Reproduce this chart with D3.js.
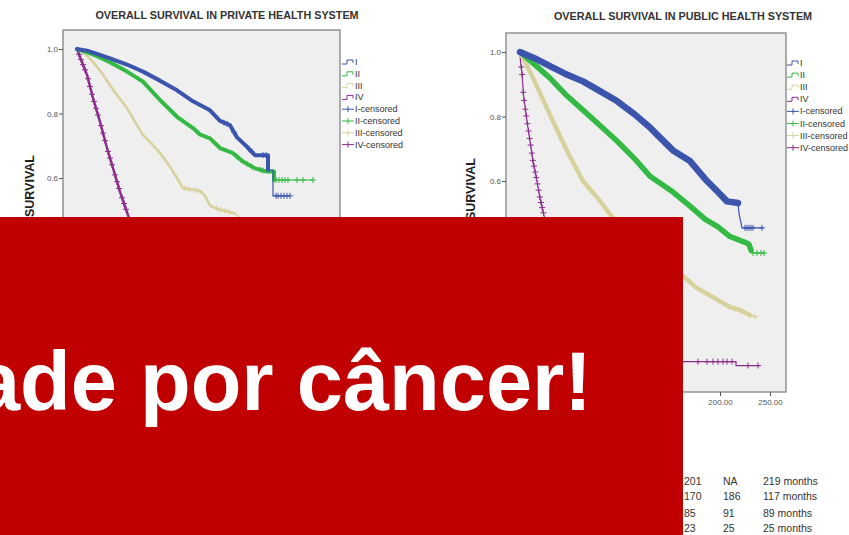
<!DOCTYPE html>
<html>
<head>
<meta charset="utf-8">
<script src="https://cdn.jsdelivr.net/npm/d3@7"></script>
<style>
  html, body { margin: 0; padding: 0; background: #ffffff; }
  svg { display: block; }
</style>
</head>
<body>
<svg id="chart" width="849" height="535"></svg>
<script>
// Kaplan–Meier overall survival by stage: [months, survival proportion]
const stages = ["I", "II", "III", "IV"];

const privateStageI = [[0,1],[10,0.995],[20,0.985],[33,0.971],[50,0.952],[66,0.93],[83,0.902],[100,0.872],[116,0.838],[133,0.81],[143,0.777],[153,0.764],[160,0.726],[170,0.697],[178,0.671],[191,0.671],[191,0.625],[196,0.625],[196,0.545],[213,0.545]];
const privateStageII = [[0,1],[10,0.99],[20,0.978],[33,0.959],[50,0.93],[66,0.899],[83,0.842],[100,0.79],[116,0.755],[123,0.735],[133,0.723],[143,0.693],[156,0.677],[166,0.651],[178,0.63],[190,0.62],[197,0.62],[197,0.594],[236,0.594]];
const privateStageIII = [[0,1],[8,0.985],[16,0.96],[25,0.925],[33,0.888],[41,0.853],[50,0.817],[58,0.775],[66,0.733],[75,0.705],[83,0.678],[92,0.64],[100,0.6],[106,0.569],[113,0.565],[123,0.56],[128,0.545],[133,0.515],[140,0.505],[150,0.497],[158,0.49],[168,0.465],[180,0.44]];
const privateStageIV = [[0,1],[3,0.975],[10,0.92],[16,0.848],[23,0.774],[30,0.693],[36,0.631],[43,0.557],[50,0.494],[56,0.44],[62,0.39]];

const publicStageI = [[0,1],[15,0.98],[30,0.956],[45,0.933],[63,0.909],[80,0.879],[97,0.848],[115,0.806],[130,0.766],[137,0.744],[153,0.695],[170,0.662],[187,0.6],[197,0.569],[207,0.537],[218,0.532],[219,0.5],[221,0.47],[222,0.455],[243,0.455]];
const publicStageII = [[0,1],[15,0.96],[30,0.919],[45,0.87],[63,0.82],[80,0.772],[97,0.724],[115,0.668],[130,0.615],[153,0.566],[170,0.522],[185,0.482],[198,0.458],[210,0.428],[225,0.41],[229,0.404],[231,0.386],[233,0.377],[245,0.377]];
const publicStageIII = [[0,1],[13,0.92],[30,0.805],[47,0.693],[63,0.6],[80,0.538],[93,0.485],[110,0.43],[130,0.375],[147,0.338],[163,0.306],[177,0.268],[193,0.24],[210,0.209],[220,0.2],[230,0.184],[237,0.178]];
const publicStageIV = [[0,1],[0.5,0.97],[2,0.935],[3.5,0.866],[7,0.786],[10,0.724],[13,0.662],[17,0.6],[20,0.547],[23,0.507],[28,0.44],[36,0.35],[48,0.25],[65,0.16],[90,0.1],[120,0.065],[150,0.045],[163,0.04],[216,0.04],[216,0.028],[240,0.028]];

// Censored observations marked individually (months)
const privateCensorI = [147,150,157,172,175,186,189,199,201,204,207,210,213];
const privateCensorII = [160,170,175,183,186,199,202,205,208,211,220,226,236];
const privateCensorIII = [108,112,118,121,140,144,148,152];
const privateCensorIV = [2,4,6,8,11,13,15,17,19,21,24,26,28,31,33,35,38,40,42,45,47,49];
const publicCensorI = [225,227,229,231,233,242];
const publicCensorII = [233,237,241,244];
const publicCensorIII = [215,220,230,235];
const publicCensorIV = [1.2,2.1,3.3,4.2,5.4,6.3,7.4,8.5,9.6,10.6,11.8,12.9,14.0,15.2,16.3,17.5,18.6,19.8,21.0,22.2,23.4,178,187,193,198,203,207,212,228,238];

// Follow-up time (months) up to which censoring marks merge into a solid band
const privateDenseUntil = [191, 197, 160, 62];
const publicDenseUntil = [218, 231, 230, 0];

const yTicks = [0, 0.2, 0.4, 0.6, 0.8, 1.0];
const xTicks = [0, 50, 100, 150, 200, 250];

// Summary table beside the plots
const tableCol1 = ["201", "170", "85", "23"];
const tableCol2 = ["NA", "186", "91", "25"];
const tableCol3 = ["219 months", "117 months", "89 months", "25 months"];

const bannerText = "ade por câncer!";

const colors = ["#3b55ad", "#34b944", "#d7d19c", "#8b2c8d"];

const banner = { x: 0, y: 217, w: 683, h: 318 };

const svg = d3.select("#chart");

function survivalAt(pts, t) {
  let i = -1;
  for (let k = 0; k < pts.length; k++) if (pts[k][0] <= t) i = k;
  if (i < 0) return pts[0][1];
  if (i >= pts.length - 1) return pts[pts.length - 1][1];
  const a = pts[i], b = pts[i + 1];
  if (b[0] === a[0]) return b[1];
  return a[1] + (b[1] - a[1]) * (t - a[0]) / (b[0] - a[0]);
}

function drawPanel(cfg) {
  const g = svg.append("g");
  const x = d3.scaleLinear().domain(cfg.xDomain).range([cfg.left, cfg.right]);
  const y = d3.scaleLinear().domain([-0.054, 1.059]).range([cfg.bottom, cfg.top]);

  g.append("rect")
    .attr("x", cfg.left).attr("y", cfg.top)
    .attr("width", cfg.right - cfg.left).attr("height", cfg.bottom - cfg.top)
    .attr("fill", "#efefef");

  const line = d3.line().x(d => x(d[0])).y(d => y(d[1]));

  // stage IV first so stage I lies on top
  [3, 2, 1, 0].forEach(i => {
    const pts = cfg.series[i];
    const col = colors[i];
    g.append("path").attr("d", line(pts))
      .attr("fill", "none").attr("stroke", col).attr("stroke-width", 1.2);
    const dense = pts.filter(d => d[0] <= cfg.dense[i]);
    if (dense.length > 1) {
      g.append("path").attr("d", line(dense))
        .attr("fill", "none").attr("stroke", col)
        .attr("stroke-width", cfg.band[i])
        .attr("stroke-linejoin", "round").attr("stroke-linecap", "round");
    }
    const cg = g.append("g").attr("stroke", col).attr("stroke-width", 1);
    cfg.censor[i].forEach(t => {
      const cx = x(t), cy = y(survivalAt(pts, t));
      cg.append("path").attr("d", `M${cx - 3},${cy}H${cx + 3}M${cx},${cy - 3}V${cy + 3}`);
    });
  });

  g.append("rect")
    .attr("x", cfg.left).attr("y", cfg.top)
    .attr("width", cfg.right - cfg.left).attr("height", cfg.bottom - cfg.top)
    .attr("fill", "none").attr("stroke", "#8c8c8c").attr("stroke-width", 1.4);

  const yAxis = g.append("g").attr("transform", `translate(${cfg.left},0)`)
    .call(d3.axisLeft(y).tickValues(yTicks).tickFormat(d3.format(".1f")).tickSize(4).tickPadding(1));
  const xAxis = g.append("g").attr("transform", `translate(0,${cfg.bottom})`)
    .call(d3.axisBottom(x).tickValues(xTicks).tickFormat(d3.format(".2f")).tickSize(4).tickPadding(3));
  [yAxis, xAxis].forEach(a => {
    a.select(".domain").remove();
    a.selectAll("line").attr("stroke", "#555");
    a.selectAll("text").attr("fill", "#555")
      .style("font-family", "'Liberation Sans', Arial, sans-serif").style("font-size", "8px");
  });

  g.append("text")
    .attr("x", cfg.titleX).attr("y", cfg.titleY)
    .attr("text-anchor", "middle")
    .style("font-family", "'Liberation Sans', Arial, sans-serif")
    .style("font-size", "10.8px").style("font-weight", "bold")
    .attr("fill", "#333")
    .text(cfg.title);

  g.append("text")
    .attr("transform", `translate(${cfg.yLabelX},${cfg.yLabelY}) rotate(-90)`)
    .attr("text-anchor", "end")
    .style("font-family", "'Liberation Sans', Arial, sans-serif")
    .style("font-size", "12.5px").style("font-weight", "bold")
    .attr("fill", "#222")
    .text("SURVIVAL");

  // legend: step glyphs for the curves, then crosses for censored cases
  const lg = g.append("g")
    .style("font-family", "'Liberation Sans Narrow', 'Liberation Sans', Arial, sans-serif")
    .style("font-size", "9px");
  const labels = stages.concat(stages.map(s => s + "-censored"));
  labels.forEach((lab, k) => {
    const i = k % 4;
    const ly = cfg.legendY + k * cfg.legendStep;
    const lx = cfg.legendX;
    if (k < 4) {
      lg.append("path")
        .attr("d", `M${lx},${ly + 2}H${lx + 5}V${ly - 2}H${lx + 11}V${ly + 1}`)
        .attr("fill", "none").attr("stroke", colors[i]).attr("stroke-width", 1);
    } else {
      lg.append("path")
        .attr("d", `M${lx},${ly}H${lx + 12}M${lx + 6},${ly - 3}V${ly + 3}`)
        .attr("fill", "none").attr("stroke", colors[i]).attr("stroke-width", 1);
    }
    lg.append("text").attr("x", lx + 13).attr("y", ly + 3)
      .attr("fill", "#333").text(lab);
  });
}

drawPanel({
  left: 63, right: 340, top: 30, bottom: 389,
  xDomain: [-14, 263],
  series: [privateStageI, privateStageII, privateStageIII, privateStageIV],
  censor: [privateCensorI, privateCensorII, privateCensorIII, privateCensorIV],
  dense: privateDenseUntil,
  band: [4, 4, 2.6, 2.4],
  title: "OVERALL SURVIVAL IN PRIVATE HEALTH SYSTEM",
  titleX: 227, titleY: 19,
  yLabelX: 34, yLabelY: 155,
  legendX: 342, legendY: 62, legendStep: 11.8
});

drawPanel({
  left: 506, right: 786, top: 33, bottom: 392,
  xDomain: [-14, 266],
  series: [publicStageI, publicStageII, publicStageIII, publicStageIV],
  censor: [publicCensorI, publicCensorII, publicCensorIII, publicCensorIV],
  dense: publicDenseUntil,
  band: [6.5, 5.5, 4.5, 1.2],
  title: "OVERALL SURVIVAL IN PUBLIC HEALTH SYSTEM",
  titleX: 683, titleY: 20,
  yLabelX: 475, yLabelY: 158,
  legendX: 787, legendY: 63, legendStep: 12.1
});

// tick labels that sit wholly beneath the banner are never seen; drop them
svg.selectAll(".tick").each(function () {
  const r = this.getBoundingClientRect();
  if (r.left >= banner.x && r.right <= banner.x + banner.w &&
      r.top >= banner.y && r.bottom <= banner.y + banner.h) {
    d3.select(this).remove();
  }
});

// red banner over the lower left
svg.append("rect")
  .attr("x", banner.x).attr("y", banner.y).attr("width", banner.w).attr("height", banner.h)
  .attr("fill", "#c00000");
svg.append("text")
  .attr("x", 592).attr("y", 410)
  .attr("text-anchor", "end")
  .style("font-family", "'Liberation Sans', Arial, sans-serif")
  .style("font-size", "83px").style("font-weight", "bold")
  .attr("fill", "#ffffff")
  .text(bannerText);

// summary table
const tg = svg.append("g")
  .style("font-family", "'Liberation Sans', Arial, sans-serif")
  .style("font-size", "10.5px")
  .attr("fill", "#333");
const rowY = [484.5, 500, 516.5, 532];
[tableCol1, tableCol2, tableCol3].forEach((col, c) => {
  const cx = [684, 723, 763][c];
  col.forEach((v, r) => {
    tg.append("text").attr("x", cx).attr("y", rowY[r]).text(v);
  });
});
</script>
</body>
</html>
